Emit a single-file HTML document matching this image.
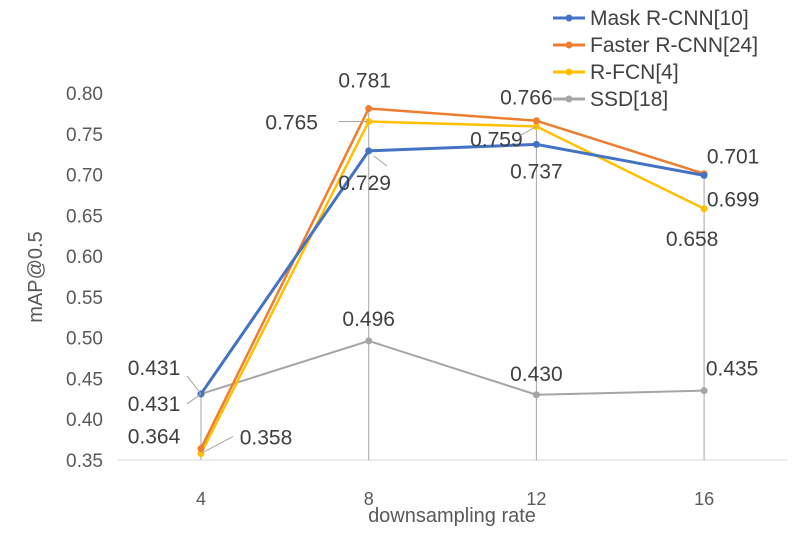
<!DOCTYPE html>
<html><head><meta charset="utf-8"><style>
body{margin:0;background:#fff;width:797px;height:532px;overflow:hidden}
text{font-family:"Liberation Sans",sans-serif}
</style></head><body>
<svg id="chart" width="797" height="532" xmlns="http://www.w3.org/2000/svg"></svg>
<script>
const categories=[4,8,12,16];
const maskRCNN=[0.431,0.729,0.737,0.699];
const fasterRCNN=[0.364,0.781,0.766,0.701];
const rfcn=[0.358,0.765,0.759,0.658];
const ssd=[0.431,0.496,0.430,0.435];
const yTicks=[0.35,0.40,0.45,0.50,0.55,0.60,0.65,0.70,0.75,0.80];
const seriesNames=["Mask R-CNN[10]","Faster R-CNN[24]","R-FCN[4]","SSD[18]"];
const NS="http://www.w3.org/2000/svg";
const svg=document.getElementById('chart');
const x=i=>201+i*167.7;
const y=v=>460-(v-0.35)/0.45*367;
function el(tag,attrs,parent){const e=document.createElementNS(NS,tag);for(const k in attrs)e.setAttribute(k,attrs[k]);(parent||svg).appendChild(e);return e;}
function txt(s,xx,yy,size,anchor,fill,name){const t=el('text',{x:xx,y:yy,'font-size':size,'text-anchor':anchor||'middle',fill:fill||'#404040'});t.textContent=s;


return t;}
const ax=el('line',{x1:117,y1:460,x2:788,y2:460,stroke:'#d9d9d9','stroke-width':1});


yTicks.forEach(v=>{txt(v.toFixed(2),103,y(v)+7,19,'end','#595959','y-tick-label');});
categories.forEach((c,i)=>{txt(String(c),x(i),505,18,'middle','#595959','x-tick-label');});
txt('downsampling rate',452,522,20,'middle','#595959','x-axis-title');
const yt=txt('mAP@0.5',0,0,20,'middle','#595959','y-axis-title');
yt.setAttribute('transform','translate(42,277) rotate(-90)');
categories.forEach((c,i)=>{const top=Math.max(maskRCNN[i],fasterRCNN[i],rfcn[i],ssd[i]);
const l=el('line',{x1:x(i),y1:y(top),x2:x(i),y2:460,stroke:'#a6a6a6','stroke-width':1});

});
const series=[[ssd,'#a5a5a5','ssd',2],[rfcn,'#ffc000','r-fcn',2.5],[fasterRCNN,'#ed7d31','faster-r-cnn',2.5],[maskRCNN,'#4472c4','mask-r-cnn',3]];
series.forEach(([d,col,nm,w])=>{
const p=el('polyline',{points:d.map((v,i)=>x(i)+','+y(v)).join(' '),fill:'none',stroke:col,'stroke-width':w});


d.forEach((v,i)=>{const c=el('circle',{cx:x(i),cy:y(v),r:3.5,fill:col});

});
});
const fs=21;
function lab(v,i,dx,dy){txt(v.toFixed(3),x(i)+dx,y(v)+dy,fs,'middle','#404040','data-label');}
lab(ssd[0],0,-47,-19);
lab(maskRCNN[0],0,-47,17);
lab(fasterRCNN[0],0,-47,-5);
lab(rfcn[0],0,65,-9);
lab(fasterRCNN[1],1,-4,-21);
lab(maskRCNN[1],1,-4,39);
lab(rfcn[1],1,-77,8);
lab(ssd[1],1,0,-15);
lab(fasterRCNN[2],2,-10,-16);
lab(rfcn[2],2,-40,20);
lab(maskRCNN[2],2,0,34);
lab(ssd[2],2,0,-14);
lab(fasterRCNN[3],3,29,-10);
lab(maskRCNN[3],3,29,31);
lab(rfcn[3],3,-12,37);
lab(ssd[3],3,28,-15);
[[x(0)-14,y(0.431)-18,x(0),y(0.431)],[x(0)-14,y(0.431)+10,x(0),y(0.431)],[x(0)+32,y(0.358)-17,x(0),y(0.358)],[x(1)-30,y(0.765),x(1),y(0.765)],[x(1)+5,y(0.729)+5,x(1)+18,y(0.729)+15],[x(2)-16,y(0.759)+9,x(2),y(0.759)]].forEach(a=>{
const l=el('line',{x1:a[0],y1:a[1],x2:a[2],y2:a[3],stroke:'#a6a6a6','stroke-width':1});

});
const lcols=['#4472c4','#ed7d31','#ffc000','#a5a5a5'];
seriesNames.forEach((n,i)=>{const ly=18+i*27;
const g=el('g',{});


el('line',{x1:553,y1:ly,x2:585,y2:ly,stroke:lcols[i],'stroke-width':3},g);
el('circle',{cx:569,cy:ly,r:3.5,fill:lcols[i]},g);
const t=el('text',{x:590,y:ly+7,'font-size':21,fill:'#404040'},g);t.textContent=n;});
</script>
</body></html>
